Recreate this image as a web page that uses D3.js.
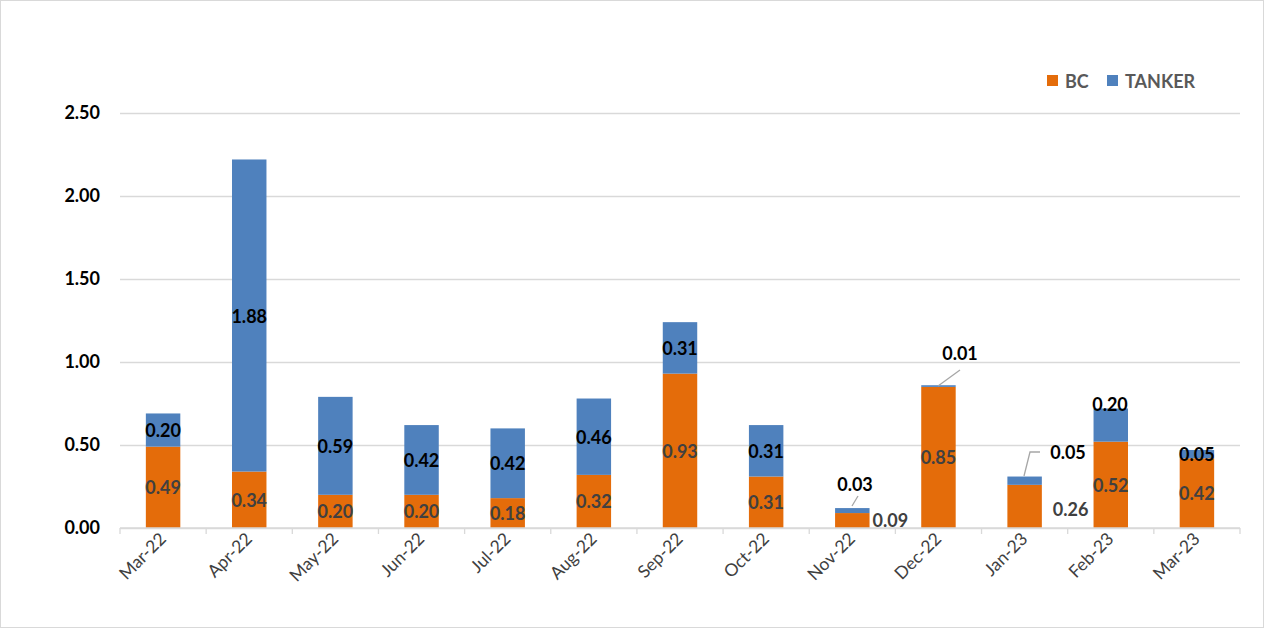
<!DOCTYPE html>
<html>
<head>
<meta charset="utf-8">
<script src="https://cdn.jsdelivr.net/npm/d3@7"></script>
<style>
  body { margin: 0; background: #fff; }
  svg { font-family: Lato, "Open Sans", sans-serif; }
</style>
</head>
<body>
<div id="chart"></div>
<script>
// months on the x axis
var months = ['Mar-22', 'Apr-22', 'May-22', 'Jun-22', 'Jul-22', 'Aug-22', 'Sep-22',
              'Oct-22', 'Nov-22', 'Dec-22', 'Jan-23', 'Feb-23', 'Mar-23'];

// series values
var bcValues = [0.49, 0.34, 0.20, 0.20, 0.18, 0.32, 0.93, 0.31, 0.09, 0.85, 0.26, 0.52, 0.42];
var tankerValues = [0.20, 1.88, 0.59, 0.42, 0.42, 0.46, 0.31, 0.31, 0.03, 0.01, 0.05, 0.20, 0.05];

var seriesNames = ['BC', 'TANKER'];
var yTicks = [0, 0.5, 1, 1.5, 2, 2.5];

var colors = {
    'BC': '#E46C0A',
    'TANKER': '#4F81BD'
};

var width = 1266,
    height = 630;

var margin = {left: 120, right: 26, top: 113, bottom: 102};

var svg = d3.select('#chart').append('svg')
    .attr('width', width)
    .attr('height', height);

// chart border
svg.append('rect')
    .attr('x', 0.5).attr('y', 0.5)
    .attr('width', width - 3).attr('height', height - 3)
    .attr('fill', '#fff')
    .attr('stroke', '#d9d9d9');

var x = d3.scaleBand()
    .domain(months)
    .range([margin.left, width - margin.right])
    .paddingInner(0.6)
    .paddingOuter(0.3);

var y = d3.scaleLinear()
    .domain([0, 2.5])
    .range([height - margin.bottom, margin.top]);

// gridlines
svg.append('g')
    .attr('transform', 'translate(' + margin.left + ',0)')
    .call(d3.axisLeft(y).tickValues(yTicks).tickSize(-(width - margin.left - margin.right)).tickFormat(''))
    .call(function(g){
        g.select('.domain').remove();
        g.selectAll('line').attr('stroke', '#d9d9d9').attr('stroke-width', 1.3);
    });

// y labels
svg.append('g')
    .attr('transform', 'translate(' + (margin.left - 17) + ',0)')
    .call(d3.axisLeft(y).tickValues(yTicks).tickSize(0).tickFormat(d3.format('.2f')))
    .call(function(g){
        g.select('.domain').remove();
        g.selectAll('text')
            .attr('fill', '#000')
            .attr('font-size', 18)
            .attr('font-weight', 'bold')
            .attr('font-family', 'Lato, sans-serif');
    });

// stack data
var table = months.map(function(m, i){
    return {month: m, BC: bcValues[i], TANKER: tankerValues[i]};
});
var stacked = d3.stack().keys(seriesNames)(table);

svg.append('g')
    .selectAll('g')
    .data(stacked)
    .enter().append('g')
        .attr('fill', function(d){ return colors[d.key]; })
    .selectAll('rect')
    .data(function(d){ return d; })
    .enter().append('rect')
        .attr('x', function(d){ return x(d.data.month); })
        .attr('width', x.bandwidth())
        .attr('y', function(d){ return y(d[1]); })
        .attr('height', function(d){ return y(d[0]) - y(d[1]); });

// x axis line and ticks at band boundaries
var y0 = y(0);
var step = x.step();
var first = x(months[0]) - step * x.paddingInner() / 2;
svg.append('line')
    .attr('x1', margin.left).attr('x2', width - margin.right)
    .attr('y1', y0).attr('y2', y0)
    .attr('stroke', '#d9d9d9').attr('stroke-width', 1.3);
svg.append('g')
    .selectAll('line')
    .data(d3.range(months.length + 1))
    .enter().append('line')
        .attr('x1', function(d){ return first + d * step; })
        .attr('x2', function(d){ return first + d * step; })
        .attr('y1', y0).attr('y2', y0 + 6)
        .attr('stroke', '#d9d9d9').attr('stroke-width', 1.3);

// x labels rotated
svg.append('g')
    .selectAll('text')
    .data(months)
    .enter().append('text')
        .attr('transform', function(d){
            return 'translate(' + (x(d) + x.bandwidth() / 2 + 4) + ',' + (y0 + 12) + ') rotate(-45)';
        })
        .attr('text-anchor', 'end')
        .attr('font-size', 17.5)
        .attr('fill', '#404040')
        .text(function(d){ return d; });

// label tweaks for the small segments (index -> position / leader)
var bcLabelShift = {8: [38, 0], 10: [46, 0]};
var bcLabelAbs = {8: 520, 10: 509};
var tankerLabelAbs = {
    8: {x: 855, y: 484, leader: [[852, 506], [858, 496]]},
    9: {x: 960, y: 353, leader: [[938, 386], [960, 370]]},
    10: {x: 1068, y: 452, leader: [[1024, 476], [1030, 452], [1040, 452]]},
    11: {x: 1110, y: 404},
};

var labels = svg.append('g')
    .attr('font-size', 18)
    .attr('font-weight', 'bold')
    .attr('text-anchor', 'middle')
    .attr('dominant-baseline', 'central');

// BC labels
labels.selectAll('.bcLabel')
    .data(stacked[0])
    .enter().append('text')
        .attr('class', 'bcLabel')
        .attr('fill', '#404040')
        .attr('x', function(d, i){
            var cx = x(d.data.month) + x.bandwidth() / 2;
            return bcLabelShift[i] ? cx + bcLabelShift[i][0] : cx;
        })
        .attr('y', function(d, i){
            return bcLabelAbs[i] !== undefined ? bcLabelAbs[i] : (y(d[0]) + y(d[1])) / 2;
        })
        .text(function(d){ return d3.format('.2f')(d[1] - d[0]); });

// tanker labels
labels.selectAll('.tkLabel')
    .data(stacked[1])
    .enter().append('text')
        .attr('class', 'tkLabel')
        .attr('fill', '#000')
        .attr('x', function(d, i){
            return tankerLabelAbs[i] ? tankerLabelAbs[i].x : x(d.data.month) + x.bandwidth() / 2;
        })
        .attr('y', function(d, i){
            return tankerLabelAbs[i] ? tankerLabelAbs[i].y : (y(d[0]) + y(d[1])) / 2;
        })
        .text(function(d){ return d3.format('.2f')(d[1] - d[0]); });

// leader lines
for(var k in tankerLabelAbs){
    var lead = tankerLabelAbs[k].leader;
    if(lead){
        svg.append('path')
            .attr('d', d3.line()(lead))
            .attr('fill', 'none')
            .attr('stroke', '#a6a6a6')
            .attr('stroke-width', 1.3);
    }
}

// legend
var legend = svg.append('g')
    .selectAll('g')
    .data(seriesNames)
    .enter().append('g')
        .attr('transform', function(d, i){ return 'translate(' + (1047 + i * 60) + ',75)'; });
legend.append('rect')
    .attr('width', 11).attr('height', 11)
    .attr('fill', function(d){ return colors[d]; });
legend.append('text')
    .attr('x', 18).attr('y', 6)
    .attr('dominant-baseline', 'central')
    .attr('font-size', 18)
    .attr('font-weight', 'bold')
    .attr('fill', '#595959')
    .text(function(d){ return d; });
</script>
</body>
</html>
